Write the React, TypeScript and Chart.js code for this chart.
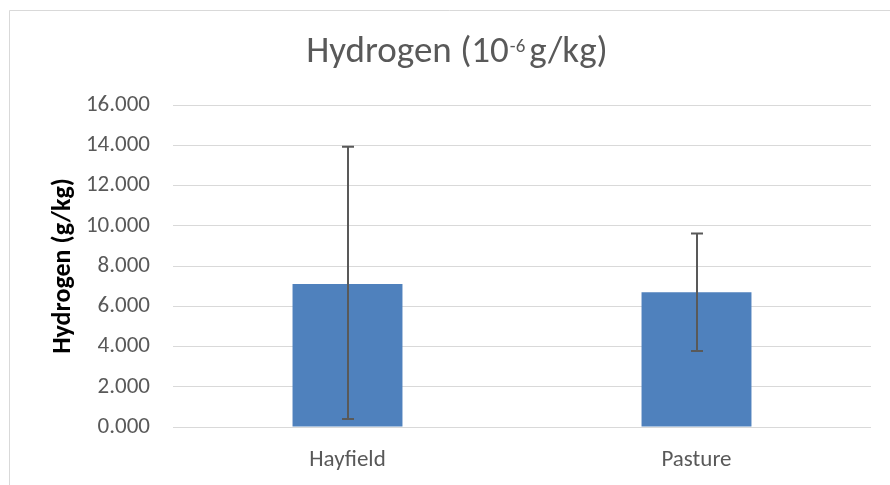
import React, { useEffect, useRef } from "react";
import { Chart, registerables } from "chart.js";

Chart.register(...registerables);

const categories = ["Hayfield", "Pasture"];
const means = [7.1, 6.7];
const errorLow = [0.4, 3.78];
const errorHigh = [13.93, 9.62];
const yTickMin = 0;
const yTickMax = 16;
const yTickStep = 2;

const FONT = "Carlito, Lato, 'Open Sans', sans-serif";
const GREY = "#595959";

const frameAndTitle = {
  id: "frameAndTitle",
  beforeDraw(chart: any) {
    const ctx = chart.ctx;
    ctx.save();
    ctx.fillStyle = "#ffffff";
    ctx.fillRect(0, 0, chart.width, chart.height);
    ctx.strokeStyle = "#d9d9d9";
    ctx.lineWidth = 1;
    ctx.beginPath();
    ctx.moveTo(9.5, chart.height);
    ctx.lineTo(9.5, 10.5);
    ctx.lineTo(chart.width, 10.5);
    ctx.stroke();
    ctx.restore();
  },
  afterDraw(chart: any) {
    const ctx = chart.ctx;
    ctx.save();
    ctx.fillStyle = GREY;
    ctx.textBaseline = "alphabetic";
    const big = `37px ${FONT}`;
    const small = `19px ${FONT}`;
    const parts = [
      { t: "Hydrogen (10", f: big, dy: 0, gap: 1 },
      { t: "-6", f: small, dy: -10, gap: 4 },
      { t: "g/kg)", f: big, dy: 0, gap: 0 },
    ];
    let total = 0;
    const widths = parts.map((p) => {
      ctx.font = p.f;
      const w = ctx.measureText(p.t).width + p.gap;
      total += w;
      return w;
    });
    let x = 457 - total / 2;
    const baseY = 62;
    parts.forEach((p, i) => {
      ctx.font = p.f;
      ctx.textAlign = "left";
      ctx.fillText(p.t, x, baseY + p.dy);
      x += widths[i];
    });
    ctx.restore();
  },
};

const errorBars = {
  id: "errorBars",
  afterDatasetsDraw(chart: any) {
    const ctx = chart.ctx;
    const meta = chart.getDatasetMeta(0);
    const y = chart.scales.y;
    ctx.save();
    ctx.strokeStyle = GREY;
    ctx.lineWidth = 2;
    meta.data.forEach((bar: any, i: number) => {
      const x = Math.round(bar.x);
      const yl = y.getPixelForValue(errorLow[i]);
      const yh = y.getPixelForValue(errorHigh[i]);
      ctx.beginPath();
      ctx.moveTo(x, yl);
      ctx.lineTo(x, yh);
      ctx.moveTo(x - 6, yl);
      ctx.lineTo(x + 6, yl);
      ctx.moveTo(x - 6, yh);
      ctx.lineTo(x + 6, yh);
      ctx.stroke();
    });
    ctx.restore();
  },
};

export default function App() {
  const ref = useRef<HTMLCanvasElement>(null);
  useEffect(() => {
    document.body.style.margin = "0";
    const chart = new Chart(ref.current as HTMLCanvasElement, {
      type: "bar",
      data: {
        labels: categories,
        datasets: [
          {
            label: "Hydrogen",
            data: means,
            backgroundColor: "#4f81bd",
            barPercentage: 1,
            categoryPercentage: 0.315,
          },
        ],
      },
      options: {
        responsive: false,
        animation: false,
        layout: { padding: { top: 105, right: 19, left: 0, bottom: 0 } },
        plugins: {
          legend: { display: false },
          title: { display: false },
          tooltip: { enabled: false },
        },
        scales: {
          x: {
            grid: { display: false, drawTicks: false },
            border: { display: false },
            ticks: { color: GREY, font: { family: FONT, size: 23 }, padding: 19 },
            afterFit: (s: any) => {
              s.height = 58;
            },
          },
          y: {
            min: yTickMin,
            max: yTickMax,
            ticks: {
              stepSize: yTickStep,
              color: GREY,
              font: { family: FONT, size: 23 },
              padding: 23,
              callback: (v: any) => Number(v).toFixed(3),
            },
            grid: { color: "#d9d9d9", lineWidth: 1, drawTicks: false },
            border: { display: false },
            title: {
              display: true,
              text: "Hydrogen (g/kg)",
              color: "#000000",
              font: { family: FONT, size: 26, weight: "bold" },
              padding: { top: 48, bottom: 0 },
            },
            afterFit: (s: any) => {
              s.width = 173;
            },
          },
        },
      },
      plugins: [frameAndTitle, errorBars],
    });
    return () => chart.destroy();
  }, []);
  return (
    <div style={{ width: 890, height: 485 }}>
      <canvas ref={ref} width={890} height={485} />
    </div>
  );
}
